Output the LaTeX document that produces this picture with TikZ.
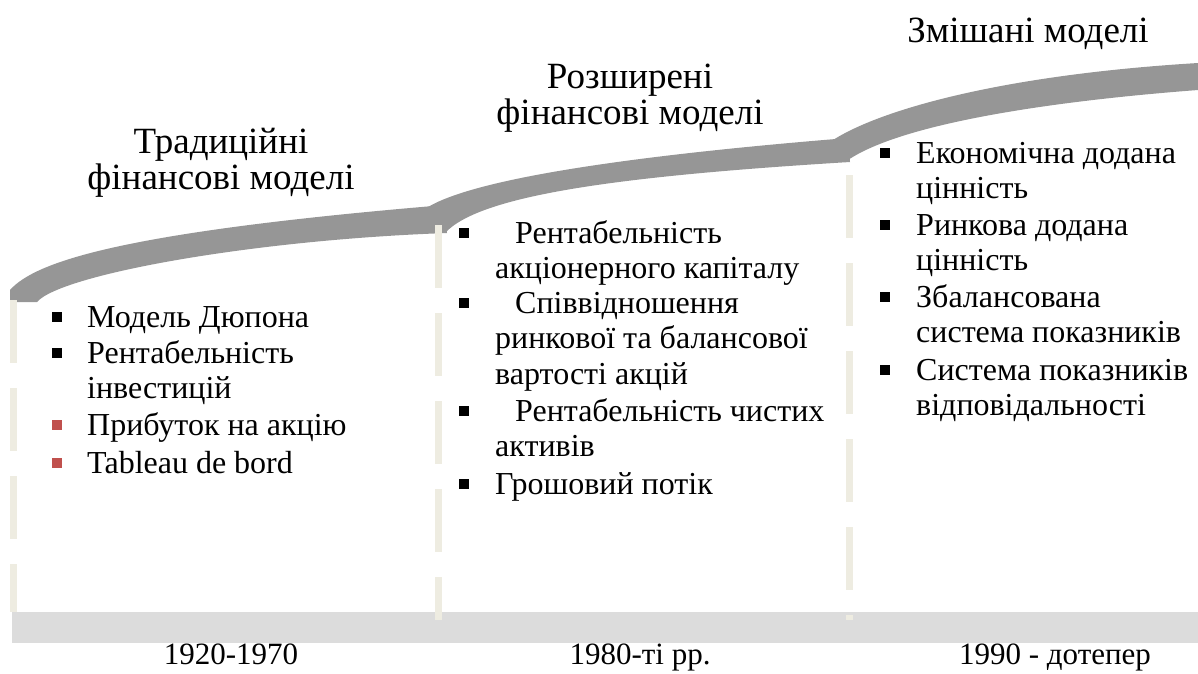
\documentclass[tikz,border=0pt]{standalone}
\usepackage{fontspec}
\setmainfont{Liberation Serif}
\definecolor{bandgray}{HTML}{969696}
\definecolor{bargray}{HTML}{DCDCDC}
\definecolor{sepbeige}{HTML}{EEECE1}
\definecolor{bulletred}{HTML}{C0504D}
\newcommand{\leftlines}[1]{\begin{tabular}[t]{@{}l@{}}#1\end{tabular}}
\newcommand{\midlines}[1]{\begin{tabular}[t]{@{}c@{}}#1\end{tabular}}

\begin{document}
\begin{tikzpicture}[x=1pt,y=-1pt,
    band/.style={fill=bandgray},
    sep/.style={draw=sepbeige,line width=7pt,dash pattern=on 63pt off 25pt},
    title/.style={font=\fontsize{37}{35}\selectfont,inner sep=0,anchor=base},
    txt/.style={font=\fontsize{32}{35.5}\selectfont,inner sep=0,anchor=base west},
    sq/.style={fill,minimum size=10pt,inner sep=0}]

  \useasboundingbox (0,0) rectangle (1198,673);

  % Rising band
  \fill[band] (10,302) -- (10,290) .. controls (35,262) and (120,232) .. (445,205)
    -- (447,233) .. controls (250,240) and (60,275) .. (37,302) -- cycle;
  \fill[band] (428,207) .. controls (470,182) and (600,158) .. (848,138)
    -- (850,162) .. controls (620,176) and (480,195) .. (445,233) -- cycle;
  \fill[band] (833,140) .. controls (880,110) and (1000,75) .. (1198,63)
    -- (1198,90) .. controls (1040,102) and (900,125) .. (848,160) -- cycle;

  % Time axis
  \fill[bargray] (12,612) rectangle (1198,643);
  \draw[sep] (13,300) -- (13,612);
  \draw[sep] (438,225) -- (438,620);
  \draw[sep] (849,175) -- (849,620);

  % Periods
  \node[title] (trad) at (221,153) {\midlines{Традиційні\\фінансові моделі}};
  \node[title] (ext) at (630,88) {\midlines{Розширені\\фінансові моделі}};
  \node[title] (mix) at (1028,42) {Змішані моделі};

  \foreach \y/\c/\t [count=\i] in {327/black/{Модель Дюпона},
      363/black/{Рентабельність\\інвестицій},
      435/bulletred/{Прибуток на акцію},
      473/bulletred/{Tableau de bord}}{%
    \node[txt] (trad\i) at (87,\y) {\leftlines{\t}};
    \node[sq,\c] (tradb\i) at (57,\y-10) {};}

  \foreach \y/\t [count=\i] in {243/{\hspace{20pt}Рентабельність\\акціонерного капіталу},
      313/{\hspace{20pt}Співвідношення\\ринкової та балансової\\вартості акцій},
      421/{\hspace{20pt}Рентабельність чистих\\активів},
      494/{Грошовий потік}}{%
    \node[txt] (ext\i) at (495,\y) {\leftlines{\t}};
    \node[sq] (extb\i) at (464,\y-10) {};}

  \foreach \y/\t [count=\i] in {163/{Економічна додана\\цінність},
      235/{Ринкова додана\\цінність},
      307/{Збалансована\\система показників},
      380/{Система показників\\відповідальності}}{%
    \node[txt] (mix\i) at (916,\y) {\leftlines{\t}};
    \node[sq] (mixb\i) at (885,\y-10) {};}

  % Years
  \node[title,font=\fontsize{31}{35}\selectfont] (y1) at (231,664) {1920-1970};
  \node[title,font=\fontsize{31}{35}\selectfont] (y2) at (640,664) {1980-ті рр.};
  \node[title,font=\fontsize{31}{35}\selectfont] (y3) at (1055,664) {1990 - дотепер};

\end{tikzpicture}
\end{document}
